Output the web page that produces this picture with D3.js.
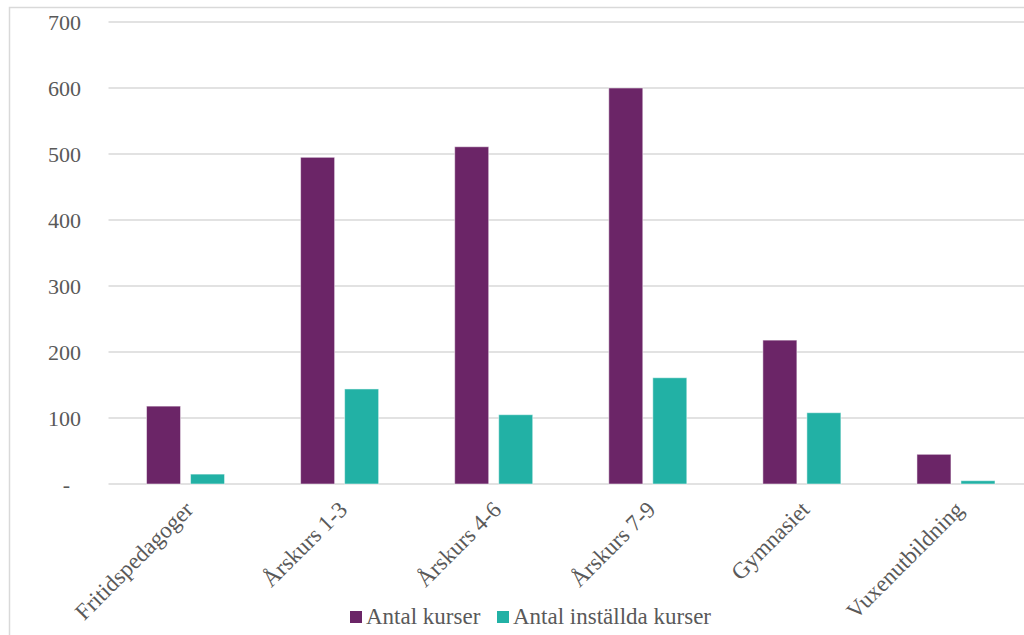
<!DOCTYPE html>
<html>
<head>
<meta charset="utf-8">
<script src="https://cdn.jsdelivr.net/npm/d3@7"></script>
<style>
  html, body { margin: 0; padding: 0; background: #fff; }
  svg { display: block; }
  svg text { font-family: "Liberation Serif", "DejaVu Serif", serif !important; fill: #595959; }
</style>
</head>
<body>
<svg id="chart" width="1024" height="635"></svg>
<script>
const categories = ["Fritidspedagoger", "Årskurs 1-3", "Årskurs 4-6", "Årskurs 7-9", "Gymnasiet", "Vuxenutbildning"];
const seriesNames = ["Antal kurser", "Antal inställda kurser"];
const antalKurser = [118, 495, 511, 600, 218, 45];
const antalInstallda = [15, 144, 105, 161, 108, 5];
const yTicks = [0, 100, 200, 300, 400, 500, 600, 700];
const colors = ["#6B2567", "#22B1A5"];

(function () {
const svg = d3.select("#chart");
const W = 1024, H = 635;
const FS = 22, FSX = 23;

svg.append("path")
  .attr("d", `M9.5,${H} V7.5 H${W}`)
  .attr("fill", "none").attr("stroke", "#d9d9d9").attr("stroke-width", 1.5);

const mLeft = 108.5, mRight = 1033, mTop = 22, mBottom = 484;

const x0 = d3.scaleBand().domain(categories).range([mLeft, mRight]).paddingInner(0).paddingOuter(0);
const x1 = d3.scaleBand().domain(seriesNames).range([0, x0.bandwidth()]).paddingInner(0.2273).paddingOuter(0.864);
const y = d3.scaleLinear().domain([0, 700]).range([mBottom, mTop]);

svg.append("g").selectAll("line").data(yTicks).join("line")
  .attr("x1", mLeft).attr("x2", W)
  .attr("y1", d => y(d)).attr("y2", d => y(d))
  .attr("stroke", "#d9d9d9").attr("stroke-width", 1.5);

const yAxis = d3.axisLeft(y).tickValues(yTicks)
  .tickFormat(d => d === 0 ? "-" : d3.format("d")(d))
  .tickSize(0).tickPadding(0);
const gy = svg.append("g").attr("transform", `translate(81,0)`).call(yAxis);
gy.select(".domain").remove();
gy.selectAll("text")
  .style("font-family", "'Liberation Serif', 'DejaVu Serif', serif")
  .style("font-size", FS + "px").attr("fill", "#595959")
  .attr("dx", d => d === 0 ? -11 : 0);

const data = categories.map((c, i) => ({ cat: c, vals: [antalKurser[i], antalInstallda[i]] }));
const groups = svg.append("g").selectAll("g").data(data).join("g")
  .attr("transform", d => `translate(${x0(d.cat)},0)`);
groups.selectAll("rect")
  .data(d => d.vals.map((v, j) => ({ key: seriesNames[j], v, j })))
  .join("rect")
  .attr("x", d => x1(d.key))
  .attr("width", x1.bandwidth())
  .attr("y", d => y(d.v))
  .attr("height", d => y(0) - y(d.v))
  .attr("fill", d => colors[d.j])
  .attr("stroke", "#ffffff").attr("stroke-opacity", 0.5).attr("stroke-width", 1);

const xAxis = d3.axisBottom(x0).tickSize(0).tickPadding(0);
const gx = svg.append("g").attr("transform", `translate(0,${mBottom})`).call(xAxis);
gx.select(".domain").remove();
gx.selectAll("text")
  .style("font-family", "'Liberation Serif', 'DejaVu Serif', serif")
  .style("font-size", FSX + "px").attr("fill", "#595959")
  .attr("text-anchor", "end")
  .attr("dy", null)
  .attr("transform", "translate(9,27) rotate(-45)");

const legend = svg.append("g").attr("transform", "translate(350,611)");
const items = [{ name: seriesNames[0], x: 0 }, { name: seriesNames[1], x: 147 }];
items.forEach((it, i) => {
  const g = legend.append("g").attr("transform", `translate(${it.x},0)`);
  g.append("rect").attr("width", 12).attr("height", 12).attr("fill", colors[i]);
  g.append("text").attr("x", 16).attr("y", 13)
    .style("font-family", "'Liberation Serif', 'DejaVu Serif', serif")
    .style("font-size", FSX + "px").attr("fill", "#595959").text(it.name);
});
})();
</script>
</body>
</html>
